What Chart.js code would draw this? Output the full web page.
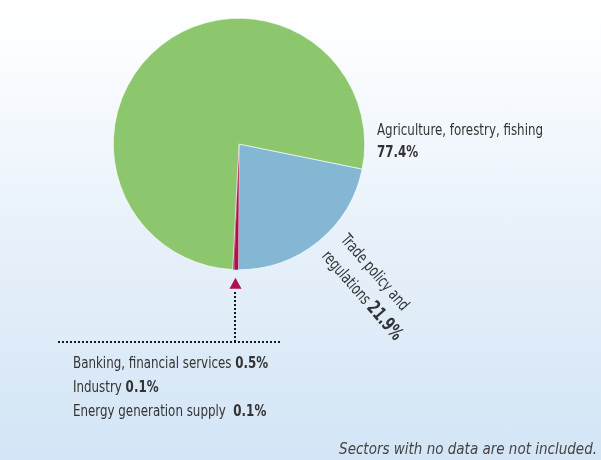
<!DOCTYPE html>
<html>
<head>
<meta charset="utf-8">
<title>Sectors</title>
<script src="https://cdn.jsdelivr.net/npm/chart.js@4.4.1/dist/chart.umd.min.js"></script>
<style>
    html, body { margin: 0; padding: 0; }
    body {
        width: 601px; height: 460px; overflow: hidden;
        background: linear-gradient(to bottom, #ffffff 0%, #fbfdff 12%, #e8f1fa 50%, #d3e5f6 100%);
    }
    #wrap { position: relative; width: 601px; height: 460px; }
</style>
</head>
<body>
<div id="wrap"><canvas id="sectorChart" width="601" height="460"></canvas></div>
<script>
// data
let sectors = ['Trade policy and regulations', 'Banking, financial services', 'Industry', 'Energy generation supply', 'Agriculture, forestry, fishing'];
let shares = [21.9, 0.5, 0.1, 0.1, 77.4];
let shareLabels = ['21.9%', '0.5%', '0.1%', '0.1%', '77.4%'];
let sliceColors = ['#84b7d3', '#b0104f', '#b0104f', '#b0104f', '#8dc76d'];
let footNote = 'Sectors with no data are not included.';

let fontName = '"DejaVu Sans Condensed", "Liberation Sans Narrow", sans-serif';
let textColor = '#333333';
let arrowColor = '#b0104f';
let squeeze = 0.8; // condensed look

// draws text squeezed horizontally, returns drawn width
function drawText(ctx, text, x, y, font, sx){
    sx = sx || squeeze;
    ctx.font = font;
    ctx.save();
    ctx.translate(x, y);
    ctx.scale(sx, 1);
    ctx.fillText(text, 0, 0);
    ctx.restore();
    return ctx.measureText(text).width * sx;
}

// labels, arrow and dotted lines drawn around the pie
let labelPlugin = {
    id: 'sectorLabels',
    afterDraw(chart){
        let ctx = chart.ctx;
        let meta = chart.getDatasetMeta(0);
        let arc = meta.data[0];
        let cx = arc.x;
        let cy = arc.y;
        let r = arc.outerRadius;

        ctx.save();
        ctx.fillStyle = textColor;
        ctx.textBaseline = 'alphabetic';
        ctx.textAlign = 'left';

        // agriculture
        drawText(ctx, sectors[4], cx + 138, cy - 9, '16.5px ' + fontName);
        drawText(ctx, shareLabels[4], cx + 138, cy + 13, 'bold 16.5px ' + fontName);

        // trade policy, rotated
        ctx.save();
        ctx.translate(cx + 101, cy + 96);
        ctx.rotate(49 * Math.PI / 180);
        drawText(ctx, 'Trade policy and', 0, 0, '16.5px ' + fontName, 0.78);
        let w = drawText(ctx, 'regulations ', 0, 25, '16.5px ' + fontName, 0.78);
        drawText(ctx, shareLabels[0], w, 25, 'bold 19px ' + fontName, 0.74);
        ctx.restore();

        // arrow to the small slices
        let mid = (meta.data[1].startAngle + meta.data[3].endAngle) / 2;
        let ax = cx + Math.cos(mid) * r;
        let ay = cy + Math.sin(mid) * r;
        ctx.fillStyle = arrowColor;
        ctx.beginPath();
        ctx.moveTo(ax, ay + 8);
        ctx.lineTo(ax - 6, ay + 19);
        ctx.lineTo(ax + 6, ay + 19);
        ctx.closePath();
        ctx.fill();

        ctx.fillStyle = '#1a1a1a';
        let lineY = 341;
        for(let y = ay + 22; y < lineY; y += 4){
            ctx.fillRect(Math.round(ax) - 1, Math.round(y), 2, 2);
        }
        for(let x = 58; x < 282; x += 4){
            ctx.fillRect(x, lineY, 2, 2);
        }

        // small sectors listed under the line
        ctx.fillStyle = textColor;
        let rows = [sectors[1] + ' ', sectors[2] + ' ', sectors[3] + '  '];
        let vals = [shareLabels[1], shareLabels[2], shareLabels[3]];
        for(let i = 0; i < rows.length; i++){
            let y = 368 + i * 24;
            let rw = drawText(ctx, rows[i], 73, y, '16.5px ' + fontName);
            drawText(ctx, vals[i], 73 + rw, y, 'bold 16.5px ' + fontName);
        }

        // foot note
        ctx.fillStyle = '#444444';
        ctx.font = 'italic 15px ' + fontName;
        let fw = ctx.measureText(footNote).width;
        drawText(ctx, footNote, 597 - fw, 454, 'italic 15px ' + fontName, 1);
        ctx.restore();
    }
};

let chartCanvas = document.getElementById('sectorChart').getContext('2d');
let config = {
    type: 'pie',
    data: {
        labels: sectors,
        datasets: [{
            data: shares,
            backgroundColor: sliceColors,
            borderColor: '#ffffff',
            borderWidth: [0.6, 0, 0, 0, 0.6]
        }]
    },
    options: {
        responsive: false,
        animation: false,
        rotation: 101.5,
        layout: {
            padding: { left: 113, right: 236, top: 18, bottom: 190 }
        },
        plugins: {
            legend: { display: false },
            tooltip: { enabled: false }
        }
    },
    plugins: [labelPlugin]
};
let chart = new Chart(chartCanvas, config);
</script>
</body>
</html>
